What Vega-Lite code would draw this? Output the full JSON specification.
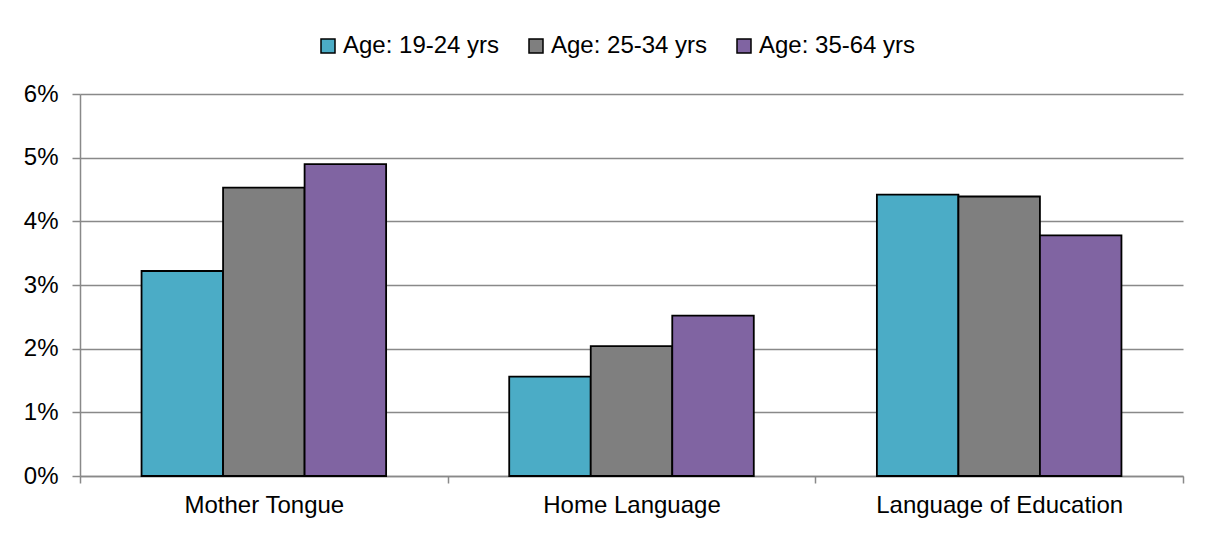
{
  "$schema": "https://vega.github.io/schema/vega-lite/v6.json",
  "width": 1103,
  "height": 382,
  "autosize": {"type": "none"},
  "padding": {"left": 80, "top": 94, "right": 22, "bottom": 57},
  "background": "white",
  "config": {
    "font": "Liberation Sans",
    "view": {"stroke": null},
    "axis": {"labelFont": "Liberation Sans", "labelFontSize": 24, "labelColor": "#000000", "labelLimit": 400, "domainColor": "#898989", "tickColor": "#898989", "gridColor": "#898989", "domainWidth": 1.5, "tickWidth": 1.5, "gridWidth": 1.5}
  },
  "data": {
    "values": [
      {"category": "Mother Tongue", "age": "Age: 19-24 yrs", "value": 0.0322},
      {"category": "Mother Tongue", "age": "Age: 25-34 yrs", "value": 0.0453},
      {"category": "Mother Tongue", "age": "Age: 35-64 yrs", "value": 0.0490},
      {"category": "Home Language", "age": "Age: 19-24 yrs", "value": 0.0156},
      {"category": "Home Language", "age": "Age: 25-34 yrs", "value": 0.0204},
      {"category": "Home Language", "age": "Age: 35-64 yrs", "value": 0.0252},
      {"category": "Language of Education", "age": "Age: 19-24 yrs", "value": 0.0442},
      {"category": "Language of Education", "age": "Age: 25-34 yrs", "value": 0.0439},
      {"category": "Language of Education", "age": "Age: 35-64 yrs", "value": 0.0378}
    ]
  },
  "mark": {"type": "bar", "stroke": "#000000", "strokeWidth": 1.8},
  "encoding": {
    "x": {
      "field": "category",
      "type": "nominal",
      "sort": ["Mother Tongue", "Home Language", "Language of Education"],
      "scale": {"paddingInner": 0, "paddingOuter": 0},
      "axis": {"title": null, "labelAngle": 0, "tickBand": "extent", "tickSize": 7, "labelPadding": 10, "grid": false}
    },
    "xOffset": {
      "field": "age",
      "type": "nominal",
      "scale": {"paddingInner": 0, "paddingOuter": 0.755}
    },
    "y": {
      "field": "value",
      "type": "quantitative",
      "scale": {"domain": [0, 0.06], "nice": false},
      "axis": {"title": null, "format": ".0%", "values": [0, 0.01, 0.02, 0.03, 0.04, 0.05, 0.06], "tickSize": 8, "labelPadding": 14, "grid": true}
    },
    "color": {
      "field": "age",
      "type": "nominal",
      "scale": {"domain": ["Age: 19-24 yrs", "Age: 25-34 yrs", "Age: 35-64 yrs"], "range": ["#4BACC6", "#7F7F7F", "#8064A2"]},
      "legend": {
        "title": null,
        "orient": "none",
        "direction": "horizontal",
        "legendX": 236,
        "legendY": -60,
        "padding": 0,
        "symbolType": "square",
        "symbolSize": 196,
        "symbolStrokeColor": "#000000",
        "symbolStrokeWidth": 1.5,
        "symbolOpacity": 1,
        "labelFont": "Liberation Sans",
        "labelFontSize": 24,
        "labelColor": "#000000",
        "labelOffset": 3,
        "labelLimit": 300,
        "columnPadding": 24
      }
    }
  }
}
